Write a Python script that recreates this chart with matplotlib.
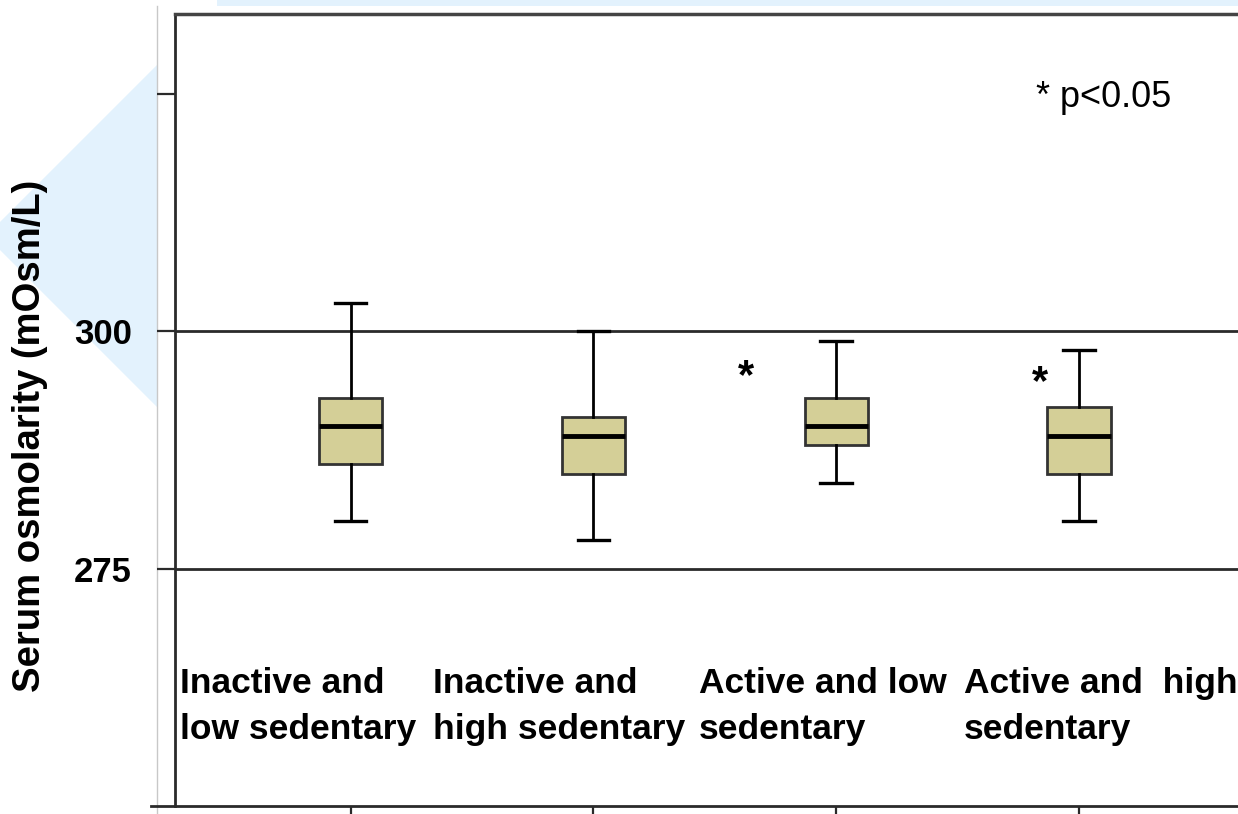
import matplotlib
matplotlib.use('Agg')
import matplotlib.pyplot as plt
from matplotlib.patches import Polygon
from matplotlib.lines import Line2D

# box statistics (mOsm/L)
groups = ['Inactive and\nlow sedentary', 'Inactive and\nhigh sedentary',
          'Active and low\nsedentary', 'Active and  high\nsedentary']
whislo = [280, 278, 284, 280]
q1 = [286, 285, 288, 285]
med = [290, 289, 290, 289]
q3 = [293, 291, 293, 292]
whishi = [303, 300, 299, 298]
sig_x = [2.63, 3.84]
sig_y = [295.2, 294.6]
yticks = [275, 300, 325]
ytick_labels = ['275', '300', '']

sans = ['Liberation Sans', 'DejaVu Sans']
W, H = 1238, 814
fig = plt.figure(figsize=(W / 100, H / 100), dpi=100)

# background decoration (slide art)
bg = fig.add_axes([0, 0, 1, 1], zorder=0)
bg.set_xlim(0, W)
bg.set_ylim(H, 0)
bg.axis('off')
blue = '#e3f2fd'
bg.add_patch(Polygon([[157, 65], [0, 222], [0, 250], [157, 407]], closed=True,
                     fc=blue, ec='none'))
bg.add_patch(Polygon([[217, 0], [W, 0], [W, 6], [217, 6]], closed=True,
                     fc=blue, ec='none'))
bg.add_line(Line2D([157, 157], [6, H], color='#c8c8c8', lw=1))

ax = fig.add_axes([175 / W, 1 - 806 / H, 1 - 175 / W + 0.002, (806 - 14) / H], zorder=1)
ax.set_xlim(0.277, 4.665)
ax.set_ylim(250, 333.44)

stats = []
for i in range(len(groups)):
    stats.append({'whislo': whislo[i], 'q1': q1[i], 'med': med[i],
                  'q3': q3[i], 'whishi': whishi[i], 'fliers': []})

ax.bxp(stats, positions=[1, 2, 3, 4], widths=0.26, capwidths=0.13,
       patch_artist=True, showfliers=False,
       boxprops=dict(facecolor='#d4cf97', edgecolor='#333333', lw=2),
       medianprops=dict(color='black', lw=3.5),
       whiskerprops=dict(color='black', lw=2),
       capprops=dict(color='black', lw=2.4), zorder=3)

# reference lines
for v in [275, 300]:
    ax.axhline(v, color='#2a2a2a', lw=2, zorder=2)

ax.set_yticks(yticks)
ax.set_yticklabels(ytick_labels, fontsize=25, fontweight='bold', family=sans)
ax.tick_params(axis='y', direction='out', length=13, width=1.6, pad=18, color='#2a2a2a')
ax.set_xticks([1, 2, 3, 4])
ax.set_xticklabels([])
ax.tick_params(axis='x', direction='out', length=8, width=1.6, color='#2a2a2a')

ax.spines['right'].set_visible(False)
ax.spines['top'].set_linewidth(2.5)
ax.spines['top'].set_color('#444444')
ax.spines['left'].set_linewidth(2)
ax.spines['left'].set_color('#2a2a2a')
ax.spines['bottom'].set_linewidth(2)
ax.spines['bottom'].set_color('#2a2a2a')
ax.spines['bottom'].set_bounds(0.18, 4.665)

# group labels inside the plot
label_x = [0.298, 1.339, 2.434, 3.525]
for x, g in zip(label_x, groups):
    ax.text(x, 264.6, g, ha='left', va='top', fontsize=25.5, fontweight='bold',
            family=sans, linespacing=1.5)

for x, y in zip(sig_x, sig_y):
    ax.text(x, y, '*', ha='center', va='center', fontsize=30, fontweight='bold',
            family=sans)

ax.text(3.822, 324.6, '* p<0.05', ha='left', va='center', fontsize=26,
        family=sans)

fig.text(30 / W, 1 - 436 / H, 'Serum osmolarity (mOsm/L)', rotation=90,
         ha='center', va='center', fontsize=27.5, fontweight='bold',
         family=sans)

fig.savefig('out.png', dpi=100)
